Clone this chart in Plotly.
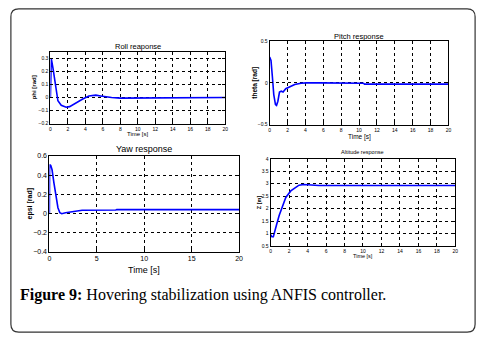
import plotly.graph_objects as go

W, H = 487, 345

# ---------------- data ----------------
roll_t = [0, 0.02, 0.1, 0.3, 0.5, 0.68, 0.86, 1.24, 1.8, 2.2, 2.9, 3.7, 4.4, 5.2, 5.75, 6.3, 7.0, 8.0, 10.5, 10.6, 20]
roll_v = [0, 0.30, 0.30, 0.225, 0.125, 0.025, -0.025, -0.06, -0.075, -0.07, -0.04, -0.012, 0.012, 0.018, 0.012, 0.005, 0.0, -0.005, -0.005, 0.0, 0.0]

pitch_t = [0, 0.15, 0.3, 0.46, 0.65, 0.77, 0.92, 1.1, 1.3, 1.5, 1.8, 2.2, 2.8, 3.5, 4.1, 5.5, 10.5, 10.6, 20]
pitch_v = [0.31, 0.27, 0.08, -0.14, -0.26, -0.27, -0.22, -0.11, -0.10, -0.11, -0.07, -0.05, -0.02, -0.005, 0.0, 0.0, -0.005, -0.015, -0.015]

yaw_t = [0, 0.02, 0.14, 0.28, 0.48, 0.69, 0.9, 1.1, 1.3, 1.7, 2.4, 3.45, 7.0, 7.1, 20]
yaw_v = [0, 0.51, 0.5, 0.455, 0.315, 0.18, 0.06, 0.007, -0.003, 0.007, 0.02, 0.034, 0.036, 0.04, 0.04]

alt_t = [0, 0.14, 0.29, 0.43, 0.64, 0.93, 1.29, 1.64, 2.18, 2.71, 3.07, 3.6, 4.14, 4.86, 5.2, 20]
alt_v = [0.96, 0.87, 0.87, 1.03, 1.35, 1.73, 2.12, 2.45, 2.71, 2.87, 2.94, 2.97, 2.96, 2.94, 2.93, 2.93]

roll_yticks = [-0.2, -0.1, 0, 0.1, 0.2, 0.3]
pitch_yticks = [-0.5, 0, 0.5]
yaw_yticks = [-0.4, -0.2, 0, 0.2, 0.4, 0.6]
alt_yticks = [0.5, 1, 1.5, 2, 2.5, 3, 3.5, 4]
x2_ticks = list(range(0, 21, 2))
x5_ticks = [0, 5, 10, 15, 20]

titles = ["Roll reaponse", "Pitch response", "Yaw response", "Altitude response"]
ylabels = ["phi [rad]", "theta [rad]", "epsi [rad]", "Z [m]"]
xlabel = "Time [s]"
caption_bold = "Figure 9:"
caption_rest = " Hovering stabilization using ANFIS controller."

# ---------------- helpers ----------------
def px(x):
    return x / W

def py(y):
    return 1 - y / H

fig = go.Figure()

panels = [
    dict(t=roll_t, v=roll_v, x=(49, 226), y=(49, 122), yr=[-0.2, 0.35], yt=roll_yticks, xt=x2_ticks,
         tf=5, ty=43, ts=7.5, ylx=32, xly=133, ls=6),
    dict(t=pitch_t, v=pitch_v, x=(271, 452), y=(38, 123), yr=[-0.5, 0.5], yt=pitch_yticks, xt=x2_ticks,
         tf=5, ty=33, ts=7.5, ylx=256, xly=136, ls=6.5),
    dict(t=yaw_t, v=yaw_v, x=(48, 240), y=(155, 253), yr=[-0.4, 0.6], yt=yaw_yticks, xt=x5_ticks,
         tf=7, ty=148, ts=9, ylx=28, xly=271, ls=9),
    dict(t=alt_t, v=alt_v, x=(272, 459), y=(158, 247), yr=[0.5, 4], yt=alt_yticks, xt=x2_ticks,
         tf=5, ty=151, ts=5.5, ylx=261, xly=257, ls=5.5),
]

annotations = []
for i, p in enumerate(panels):
    n = i + 1
    xa = "x" if n == 1 else f"x{n}"
    ya = "y" if n == 1 else f"y{n}"
    fig.add_trace(go.Scatter(x=p["t"], y=p["v"], mode="lines",
                             line=dict(color="#0000FF", width=1.6),
                             xaxis=xa, yaxis=ya, showlegend=False))
    axcommon = dict(showline=True, linecolor="black", linewidth=1, mirror="ticks",
                    ticks="inside", ticklen=3, tickcolor="black",
                    showgrid=True, gridcolor="black", griddash="dot", gridwidth=1,
                    zeroline=False, tickfont=dict(family="Liberation Sans", size=p["tf"], color="black"))
    xkey = "xaxis" if n == 1 else f"xaxis{n}"
    ykey = "yaxis" if n == 1 else f"yaxis{n}"
    fig.update_layout({
        xkey: dict(domain=[px(p["x"][0]), px(p["x"][1])], range=[0, 20], tickvals=p["xt"],
                   anchor=ya, **axcommon),
        ykey: dict(domain=[py(p["y"][1]), py(p["y"][0])], range=p["yr"], tickvals=p["yt"],
                   anchor=xa, **axcommon),
    })
    cx = (p["x"][0] + p["x"][1]) / 2
    annotations.append(dict(text=titles[i], x=px(cx), y=py(p["ty"]), xref="paper", yref="paper",
                            showarrow=False, xanchor="center", yanchor="middle",
                            font=dict(family="Liberation Sans", size=p["ts"], color="black")))
    annotations.append(dict(text=xlabel, x=px(cx), y=py(p["xly"]), xref="paper", yref="paper",
                            showarrow=False, xanchor="center", yanchor="middle",
                            font=dict(family="Liberation Sans", size=p["ls"], color="black")))
    cy = (p["y"][0] + p["y"][1]) / 2
    annotations.append(dict(text="<b>" + ylabels[i] + "</b>", x=px(p["ylx"]), y=py(cy), xref="paper", yref="paper",
                            showarrow=False, xanchor="center", yanchor="middle", textangle=-90,
                            font=dict(family="Liberation Sans", size=p["ls"] if i != 2 else 7, color="black")))

annotations.append(dict(text="<b>" + caption_bold + "</b>" + caption_rest, x=px(16), y=py(297),
                        xref="paper", yref="paper", showarrow=False, xanchor="left", yanchor="middle",
                        font=dict(family="Liberation Serif", size=16, color="black")))

# rounded outer frame
x0, x1, y0, y1 = px(9), px(479), py(335), py(5)
rx, ry = 8 / W, 8 / H
path = (f"M {x0+rx},{y0} L {x1-rx},{y0} Q {x1},{y0} {x1},{y0+ry} "
        f"L {x1},{y1-ry} Q {x1},{y1} {x1-rx},{y1} L {x0+rx},{y1} Q {x0},{y1} {x0},{y1-ry} "
        f"L {x0},{y0+ry} Q {x0},{y0} {x0+rx},{y0} Z")

fig.update_layout(
    width=W, height=H, autosize=False,
    margin=dict(l=0, r=0, t=0, b=0),
    paper_bgcolor="white", plot_bgcolor="white",
    annotations=annotations,
    shapes=[dict(type="path", path=path, xref="paper", yref="paper",
                 line=dict(color="#333333", width=1.2), layer="below")],
)

fig.write_html("out.html", config={"displayModeBar": False},
               post_script="document.body.style.margin='0';document.body.style.overflow='hidden';")
